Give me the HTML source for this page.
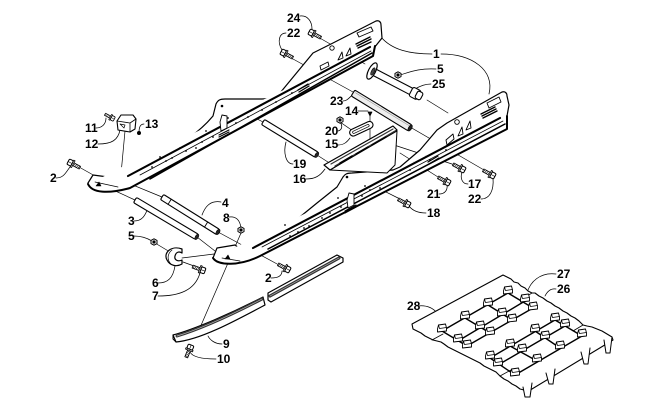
<!DOCTYPE html>
<html><head><meta charset="utf-8">
<style>
html,body{margin:0;padding:0;background:#fff;}
svg{display:block}
text{font-family:"Liberation Sans",sans-serif;font-weight:bold;font-size:12px;fill:#000}
</style></head>
<body>
<svg width="650" height="406" viewBox="0 0 650 406" xmlns="http://www.w3.org/2000/svg">
<defs>
 <g id="b">
  <path d="M-10,-1.5 L-2,-1.5 L-2,1.5 L-10,1.5 Z" fill="#fff" stroke="#000" stroke-width="0.8"/>
  <path d="M-8.5,-1.5 L-9.2,1.5 M-6.8,-1.5 L-7.5,1.5 M-5.1,-1.5 L-5.8,1.5 M-3.4,-1.5 L-4.1,1.5" stroke="#000" stroke-width="0.6"/>
  <rect x="-2.6" y="-3.8" width="1.4" height="7.6" fill="#fff" stroke="#000" stroke-width="0.8"/>
  <rect x="-1.2" y="-3" width="4.4" height="6" rx="1.2" fill="#fff" stroke="#000" stroke-width="1"/>
  <line x1="-1" y1="0" x2="3.2" y2="0" stroke="#000" stroke-width="0.6"/>
 </g>
 <g id="nut">
  <polygon points="-3,-1.6 0,-3.2 3,-1.6 3,1.6 0,3.2 -3,1.6" fill="#fff" stroke="#000" stroke-width="1"/>
  <circle r="1.1" fill="#000"/>
 </g>
 <g id="clip">
  <path d="M-4.5,1 L-3.5,-3 L3.5,-4 L4.5,0 L4.5,3 L-4.5,4 Z" fill="#fff" stroke="#000" stroke-width="0.9"/>
  <path d="M-3.5,-3 L-2.5,0.5 L4.5,-0.5" fill="none" stroke="#000" stroke-width="0.7"/>
 </g>
</defs>

<g fill="none" stroke="#000" stroke-linecap="round" stroke-linejoin="round">

<!-- ===== assembly (thin) lines ===== -->
<g stroke-width="0.7">
 <path d="M79,167 L95,176"/>
 <path d="M100,184 L135,200 M197,237 L215,251"/>
 <path d="M118,179 L162,197 M218,232 L279,265"/>
 <path d="M125,131 L121,174"/>
 <path d="M241,233 L199,330"/>
 <path d="M155,243 L170,252"/>
 <path d="M182,258 L214,254"/>
 <path d="M194,266 L183,262"/>
 <path d="M240,110 L263,122 M317,155 L331,164"/>
 <path d="M293,59 L353,92 M410,127 L484,170"/>
 <path d="M318,37 L365,64 M427,100 L448,113"/>
 <path d="M340,122 L353,131"/>
 <path d="M370,113 L370,142"/>
 <path d="M394,145 L455,165 M400,153 L438,177"/>
 <path d="M376,187 L398,198"/>
</g>

<!-- ===== leader lines ===== -->
<g stroke-width="0.75">
 <path d="M300,16 C308,15 312,22 312,29"/>
 <path d="M286,33 C279,33 277,42 282,50"/>
 <path d="M432,54 C410,54 392,50 381,37"/>
 <path d="M441,54 C472,54 495,70 489,94"/>
 <path d="M436,69 C420,68 410,72 400,75"/>
 <path d="M431,84 C425,84 420,86 415,89"/>
 <path d="M343,101 C348,101 350,96 354,94"/>
 <path d="M358,111 L368,111"/>
 <path d="M338,131 C342,130 343,126 340,122"/>
 <path d="M338,145 C344,145 347,142 350,138"/>
 <path d="M293,164 C286,164 283,153 286,142"/>
 <path d="M306,179 C315,179 320,176 325,169"/>
 <path d="M468,184 C462,184 460,178 462,172"/>
 <path d="M439,194 C445,194 448,190 447,184"/>
 <path d="M481,199 C490,199 494,190 493,178"/>
 <path d="M426,213 C417,213 412,210 409,206"/>
 <path d="M96,128 C102,128 106,124 106,118"/>
 <path d="M98,144 C112,144 118,140 120,130"/>
 <path d="M144,124 C140,124 139,128 139,132"/>
 <path d="M56,178 C64,178 66,172 70,167"/>
 <path d="M221,202 C210,200 205,207 202,215"/>
 <path d="M229,217 C236,216 240,220 241,228"/>
 <path d="M134,221 C142,221 145,216 148,208"/>
 <path d="M134,236 C142,236 147,238 152,241"/>
 <path d="M271,278 C279,278 282,275 282,271"/>
 <path d="M158,283 C168,283 173,278 175,266"/>
 <path d="M158,296 C180,296 195,290 200,273"/>
 <path d="M222,344 C215,344 210,340 208,336"/>
 <path d="M216,359 C200,359 192,356 190,352"/>
 <path d="M556,274 C540,272 530,282 527,293"/>
 <path d="M556,289 C550,288 547,292 545,296"/>
 <path d="M418,306 C435,304 443,318 443,330"/>
</g>

<!-- ===== Rail 1 (back) ===== -->
<path d="M88,183 L93,175 L108,177 L113,175 L123,173 L133,170 C150,162 170,152 190,137 C200,130 208,122 213,116 L216,104 C218,100 220,99 225,99 L262,99 C270,99 275,97 280,93 L313,53 L333,43 L376,21 C379,20 381,22 381,25 L382,38 L374,48" fill="#fff" stroke-width="1.2"/>
<path d="M88,184 C92,193 108,194 130,188 L373,56 L375,46" fill="#fff" stroke-width="2"/>
<path d="M128,176 L370,47" stroke-width="2.1"/>
<path d="M140,175 L371,51" stroke-width="0.8"/>
<path d="M150,179 L372,53" stroke-width="1.5"/>
<path d="M95,182 L118,187" stroke-width="0.7"/>
<path d="M96,186 L99,182 L101,186 Z" fill="#000" stroke-width="0.6"/>
<path d="M357,33 L371,27 L373,31 L359,37 Z" stroke-width="0.9"/>
<path d="M356,44 L370,37 M357,46 L371,39 M358,48 L371,42" stroke-width="1.4"/>
<circle cx="332" cy="48" r="2.2" stroke-width="0.9"/>
<path d="M338,60 L342,52 L343,58 Z M346,56 L350,48 L351,54 Z" stroke-width="0.9" fill="#fff"/>
<path d="M320,66 L328,62 L329,66 L321,70 Z" stroke-width="0.9"/>
<path d="M298,90 L308,84 M299,92 L309,86" stroke-width="1.3"/>
<path d="M220,122 L222,115 L227,116 L227,128 L221,131 Z" stroke-width="0.9" fill="#fff"/>
<path d="M219,135 L229,130 M219,137 L229,132" stroke-width="1.1"/>
<g fill="#000" stroke="none">
 <circle cx="152" cy="167" r="0.9"/><circle cx="166" cy="161" r="0.9"/><circle cx="172" cy="158" r="0.9"/>
 <circle cx="186" cy="151" r="0.9"/><circle cx="196" cy="148" r="0.9"/><circle cx="202" cy="142" r="0.9"/>
 <circle cx="213" cy="137" r="0.9"/><circle cx="236" cy="123" r="0.9"/><circle cx="248" cy="117" r="0.9"/>
 <circle cx="262" cy="110" r="0.9"/><circle cx="276" cy="102" r="0.9"/><circle cx="292" cy="93" r="0.9"/>
 <circle cx="222" cy="106" r="1.3"/><circle cx="160" cy="157" r="0.9"/><circle cx="180" cy="148" r="0.9"/>
 <circle cx="206" cy="131" r="0.9"/><circle cx="228" cy="118" r="0.9"/>
</g>

<!-- ===== Shaft 25 ===== -->
<g transform="translate(372,71) rotate(27.5)">
 <rect x="0" y="-3.5" width="50" height="7" fill="#fff" stroke-width="1.1"/>
 <rect x="44" y="-5" width="9" height="10" rx="2" fill="#fff" stroke-width="1.1"/>
 <rect x="50" y="-4" width="6" height="8" rx="2" fill="#fff" stroke-width="1.1"/>
 <ellipse cx="0" cy="0" rx="3.5" ry="9" fill="#fff" stroke-width="1.2"/>
 <ellipse cx="1" cy="0" rx="1.5" ry="4" fill="#444" stroke-width="0.6"/>
</g>
<use href="#nut" transform="translate(398,75)"/>

<!-- ===== Shaft 23 ===== -->
<g transform="translate(353,93) rotate(31.5)">
 <rect x="0" y="-3.5" width="67" height="7" rx="1.5" fill="#eee" stroke-width="1.1"/>
 <line x1="2" y1="-1.5" x2="65" y2="-1.5" stroke-width="0.5" stroke="#888"/>
 <ellipse cx="67" cy="0" rx="1.6" ry="3.4" fill="#222" stroke-width="0.6"/>
</g>

<!-- ===== Shaft 19 ===== -->
<g transform="translate(263,122) rotate(31.4)">
 <rect x="0" y="-3" width="63" height="6" rx="1.5" fill="#fff" stroke-width="1.1"/>
 <ellipse cx="63" cy="0" rx="1.5" ry="3" fill="#222" stroke-width="0.6"/>
</g>

<!-- ===== Rail 2 (front) ===== -->
<path d="M213,258 L217,248 L235,245 L243,251 L257,247 L283,232 L290,225 L317,203 L337,187 L343,177 C345,174 347,173 352,173 L393,170 L400,167 L420,150 L437,130 L447,123 L502,92 C505,91 507,93 507,96 L509,105 L507,116" fill="#fff" stroke-width="1.2"/>
<path d="M213,258 C218,266 240,266 260,256 L507,129 L507,116" fill="#fff" stroke-width="2"/>
<path d="M253,248 L500,118" stroke-width="2.1"/>
<path d="M262,247 L503,121" stroke-width="0.8"/>
<path d="M268,249 L505,124" stroke-width="1.5"/>
<path d="M222,258 L240,261" stroke-width="0.7"/>
<path d="M225,259 L228,255 L230,259 Z" fill="#000" stroke-width="0.6"/>
<!-- plate 16 -->
<path d="M330,170 L387,173 L395,165 L397,131 Z" fill="#fff" stroke-width="1"/>
<path d="M324,165 L393,126 L397,130 L330,170 Z" fill="#fff" stroke-width="1.2"/>
<path d="M331,164 L393,129 M335,166 L395,131" stroke-width="1.2" stroke="#333"/>
<path d="M340,163 L352,156 M356,154 L368,147 M372,145 L386,137" stroke-width="1.5"/>
<path d="M487,103 L499,97 L501,102 L489,108 Z" stroke-width="0.9"/>
<path d="M481,114 L495,107 M482,116 L496,109 M483,118 L497,111" stroke-width="1.4"/>
<circle cx="457" cy="122" r="2.3" stroke-width="0.9"/>
<path d="M466,130 L470,121 L471,128 Z M458,136 L462,127 L463,134 Z" stroke-width="0.9" fill="#fff"/>
<path d="M446,140 L453,134 L454,139 L447,145 Z" stroke-width="0.9"/>
<path d="M428,162 L438,156 M429,164 L439,158" stroke-width="1.3"/>
<path d="M347,200 L349,193 L354,194 L354,205 L348,208 Z" stroke-width="0.9" fill="#fff"/>
<path d="M345,211 L356,205 M345,213 L356,207" stroke-width="1.1"/>
<g fill="#000" stroke="none">
 <circle cx="290" cy="236" r="0.9"/><circle cx="298" cy="232" r="0.9"/><circle cx="304" cy="228" r="0.9"/>
 <circle cx="309" cy="226" r="0.9"/><circle cx="322" cy="218" r="0.9"/><circle cx="330" cy="213" r="0.9"/>
 <circle cx="341" cy="207" r="0.9"/><circle cx="362" cy="196" r="0.9"/><circle cx="370" cy="190" r="0.9"/>
 <circle cx="380" cy="188" r="0.9"/><circle cx="410" cy="170" r="0.9"/><circle cx="430" cy="160" r="0.9"/>
 <circle cx="446" cy="150" r="0.9"/><circle cx="347" cy="177" r="1.3"/><circle cx="285" cy="225" r="0.9"/>
 <circle cx="338" cy="198" r="0.9"/><circle cx="365" cy="186" r="0.9"/>
</g>

<!-- ===== Shafts 3 and 4 ===== -->
<g transform="translate(135,200) rotate(30.8)">
 <rect x="0" y="-3" width="72" height="6" rx="1.5" fill="#fff" stroke-width="1.1"/>
 <ellipse cx="72" cy="0" rx="1.5" ry="3" fill="#222" stroke-width="0.6"/>
</g>
<g transform="translate(162,197) rotate(32)">
 <rect x="0" y="-3" width="66" height="6" rx="1.5" fill="#fff" stroke-width="1.1"/>
 <line x1="9" y1="-3" x2="9" y2="3" stroke-width="0.9"/>
 <line x1="52" y1="-3" x2="52" y2="3" stroke-width="0.9"/>
 <ellipse cx="66" cy="0" rx="1.6" ry="3" fill="#222" stroke-width="0.6"/>
</g>

<!-- ===== Small parts ===== -->
<g transform="translate(350,134) rotate(-25)">
 <rect x="0" y="-3.5" width="25" height="7" rx="3.5" fill="#fff" stroke-width="1.1"/>
 <rect x="3" y="-1.2" width="18" height="2.4" rx="1.2" stroke-width="0.7"/>
</g>
<path d="M368,112 L372,112 L370,116 Z" fill="#000" stroke-width="0.7"/>
<use href="#nut" transform="translate(340,120)"/>
<use href="#nut" transform="translate(241,230)"/>
<use href="#nut" transform="translate(154,242)"/>
<circle cx="139" cy="133" r="1.5" fill="#000"/>
<path d="M117,121 L121,115 L133,115 L136,119 L135,129 L130,132 L118,130 Z" fill="#fff" stroke-width="1.1"/>
<path d="M117,121 L130,123 L136,119 M130,123 L130,132" stroke-width="0.8"/>
<path d="M120,124 L125,125 L124,128 Z" stroke-width="0.7"/>
<path d="M182,249 C171,245 163,253 167,260 C170,266 177,267 182,264 L182,260 C178,262 174,260 175,256 C176,252 179,251 182,253 Z" fill="#fff" stroke-width="1.2"/>
<path d="M172,250 C167,254 167,260 171,264" stroke-width="0.7"/>

<!-- ===== Bolts ===== -->
<use href="#b" transform="translate(312,33) rotate(208)"/>
<use href="#b" transform="translate(284,53) rotate(208)"/>
<use href="#b" transform="translate(71,163) rotate(208)"/>
<use href="#b" transform="translate(462,169) rotate(28)"/>
<use href="#b" transform="translate(492,175) rotate(28)"/>
<use href="#b" transform="translate(447,182) rotate(28)"/>
<use href="#b" transform="translate(407,204) rotate(28)"/>
<use href="#b" transform="translate(287,269) rotate(28)"/>
<use href="#b" transform="translate(202,270) rotate(20)"/>
<use href="#b" transform="translate(190,348) rotate(-68)"/>
<use href="#b" transform="translate(112,118) rotate(28) scale(0.8)"/>

<!-- ===== Runner 9 ===== -->
<path d="M173,335 C195,329 232,313 263,297 L265,305 C235,321 200,340 176,342 Z" fill="#fff" stroke-width="1.2"/>
<path d="M177,336 C200,329 233,314 262,299" stroke="#333" stroke-width="3"/>
<path d="M177,336 C200,329 233,314 262,299" stroke="#bbb" stroke-width="0.7"/>
<path d="M268,293 L337,255 L343,258 L343,262 L271,302 L268,300 Z" fill="#fff" stroke-width="1.2"/>
<path d="M270,296 L339,258" stroke="#333" stroke-width="3"/>
<path d="M270,296 L339,258" stroke="#bbb" stroke-width="0.7"/>
<path d="M173,335 L173,339 L176,342" stroke-width="1"/>

<!-- ===== Track 26/27/28 ===== -->
<path d="M412,324 L503,275 L507,277 L511,279 L514,282 L518,283 L521,286 L525,288 L528,291 L532,293 L535,293 L539,296 L543,298 L547,301 L551,303 L555,306 L559,308 L563,311 L567,313 L571,316 L575,318 L579,321 L583,325 L587,326 L592,327 L597,329 L602,331 L607,334 L612,337 L613,340 L527,392 L524,390 L520,389 L516,386 L512,384 L508,381 L504,379 L500,376 L496,372 L492,370 L488,368 L484,366 L480,363 L476,361 L472,359 L468,357 L464,355 L460,353 L456,351 L452,349 L448,347 L444,344 L441,342 L437,341 L433,340 L429,338 L425,336 L421,333 L417,331 L413,329 Z" fill="#fff" stroke-width="1.1"/>
<path d="M432,340 L443,334 M500,376 L511,370" stroke-width="0.8"/>
<path d="M532,293 L522,299 M583,325 L573,331" stroke-width="0.8"/>
<g fill="#fff" stroke-width="1">
 <path d="M523,387 L525,397 L530,397 L532,383"/>
 <path d="M546,373 L549,384 L553,384 L555,369"/>
 <path d="M581,352 L584,364 L588,364 L590,348"/>
 <path d="M604,340 L606,353 L610,353 L612,337"/>
</g>
<g stroke-width="1.4">
 <path d="M442,331 L508,293 M458,341 L525,301 M467,346 L533,308"/>
 <path d="M490,358 L555,320 M498,365 L565,326 M515,375 L582,336"/>
 <path d="M442,331 L467,346 M465,318 L490,333 M488,305 L512,320 M508,293 L533,308"/>
 <path d="M490,358 L515,375 M510,346 L537,361 M535,331 L560,348 M555,320 L582,336"/>
</g>
<g>
 <use href="#clip" transform="translate(508,290)"/><use href="#clip" transform="translate(488,302)"/>
 <use href="#clip" transform="translate(465,315)"/><use href="#clip" transform="translate(442,328)"/>
 <use href="#clip" transform="translate(525,298)"/><use href="#clip" transform="translate(502,312)"/>
 <use href="#clip" transform="translate(480,325)"/><use href="#clip" transform="translate(458,338)"/>
 <use href="#clip" transform="translate(533,306)"/><use href="#clip" transform="translate(512,318)"/>
 <use href="#clip" transform="translate(490,331)"/><use href="#clip" transform="translate(467,344)"/>
 <use href="#clip" transform="translate(555,317)"/><use href="#clip" transform="translate(535,328)"/>
 <use href="#clip" transform="translate(510,343)"/><use href="#clip" transform="translate(490,355)"/>
 <use href="#clip" transform="translate(565,323)"/><use href="#clip" transform="translate(545,335)"/>
 <use href="#clip" transform="translate(522,348)"/><use href="#clip" transform="translate(498,362)"/>
 <use href="#clip" transform="translate(582,333)"/><use href="#clip" transform="translate(560,345)"/>
 <use href="#clip" transform="translate(537,358)"/><use href="#clip" transform="translate(515,372)"/>
</g>
</g>

<!-- ===== Labels ===== -->
<g>
 <text x="287" y="22">24</text>
 <text x="287" y="37">22</text>
 <text x="433" y="58">1</text>
 <text x="437" y="73">5</text>
 <text x="432" y="88">25</text>
 <text x="330" y="105">23</text>
 <text x="345" y="115">14</text>
 <text x="325" y="135">20</text>
 <text x="325" y="148">15</text>
 <text x="293" y="168">19</text>
 <text x="293" y="183">16</text>
 <text x="468" y="188">17</text>
 <text x="427" y="198">21</text>
 <text x="468" y="203">22</text>
 <text x="427" y="217">18</text>
 <text x="85" y="132">11</text>
 <text x="85" y="148">12</text>
 <text x="145" y="128">13</text>
 <text x="50" y="182">2</text>
 <text x="222" y="207">4</text>
 <text x="223" y="222">8</text>
 <text x="128" y="225">3</text>
 <text x="128" y="240">5</text>
 <text x="265" y="282">2</text>
 <text x="152" y="287">6</text>
 <text x="152" y="300">7</text>
 <text x="223" y="348">9</text>
 <text x="217" y="363">10</text>
 <text x="557" y="278">27</text>
 <text x="557" y="293">26</text>
 <text x="407" y="310">28</text>
</g>
</svg>
</body></html>
